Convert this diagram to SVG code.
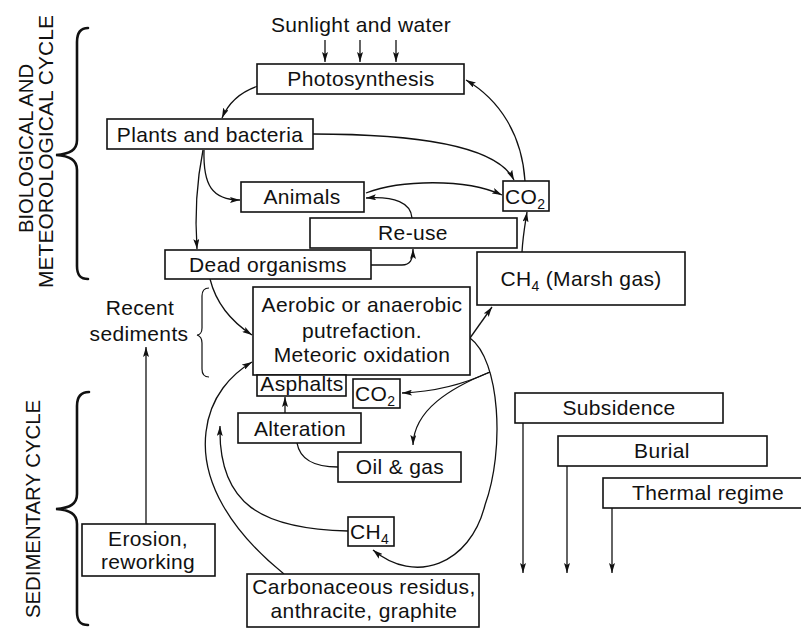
<svg xmlns="http://www.w3.org/2000/svg" width="801" height="632" viewBox="0 0 801 632">
<defs>
<style>
.t{font-family:"Liberation Sans",Arial,Helvetica,sans-serif;font-size:21px;letter-spacing:0.35px;fill:#111;text-anchor:middle}
.s{text-anchor:start}
.b{fill:#fff;stroke:#111;stroke-width:1.6}
.c{fill:none;stroke:#111;stroke-width:1.3}
.br{fill:none;stroke:#111;stroke-width:2.6;stroke-linecap:round}
.bt{fill:none;stroke:#111;stroke-width:1.2}
.v{font-family:"Liberation Sans",Arial,Helvetica,sans-serif;font-size:21px;fill:#111}
</style>
<marker id="a" viewBox="0 0 10 6" refX="10" refY="3" markerWidth="10" markerHeight="6" markerUnits="userSpaceOnUse" orient="auto">
<path d="M0,0 L10,3 L0,6 L2,3 z" fill="#111"/>
</marker>
</defs>
<rect width="801" height="632" fill="#fff"/>

<g id="labels">
<text class="v" transform="translate(33,233) rotate(-90)" textLength="169" lengthAdjust="spacingAndGlyphs">BIOLOGICAL AND</text>
<text class="v" transform="translate(53,288) rotate(-90)" textLength="273" lengthAdjust="spacing">METEOROLOGICAL CYCLE</text>
<text class="v" transform="translate(40,618) rotate(-90)" textLength="218" lengthAdjust="spacingAndGlyphs">SEDIMENTARY CYCLE</text>
<path class="br" d="M88,28 C80,28 77,33 77,42 L77,140 C77,150 70,154 56,155 C70,156 77,160 77,170 L77,266 C77,275 80,279 88,279"/>
<path class="br" d="M89,392 C81,392 77,397 77,406 L77,494 C77,504 70,508 56,509 C70,510 77,514 77,524 L77,612 C77,621 80,625 88,625"/>
<text class="t" x="140" y="315">Recent</text>
<text class="t" x="139" y="341">sediments</text>
<path class="bt" d="M209,288 C204,288 202,291 202,296 L202,328 C202,332 200,335 197,335 C200,336 202,339 202,343 L202,369 C202,374 204,377 209,377"/>
<text class="t" x="361" y="32">Sunlight and water</text>
</g>

<g id="connectors">
<path class="c" marker-end="url(#a)" d="M325,40 L325,62"/>
<path class="c" marker-end="url(#a)" d="M360,40 L360,62"/>
<path class="c" marker-end="url(#a)" d="M396,40 L396,62"/>
<path class="c" marker-end="url(#a)" d="M258,86 C240,92 228,104 222,118"/>
<path class="c" marker-end="url(#a)" d="M204,150 C203,185 212,200 240,200"/>
<path class="c" marker-end="url(#a)" d="M203,150 C196,185 195,220 197,249"/>
<path class="c" marker-end="url(#a)" d="M313,134 C400,134 495,142 514,180"/>
<path class="c" marker-end="url(#a)" d="M525,181 C522,135 500,100 466,80"/>
<path class="c" marker-end="url(#a)" d="M366,193 C400,180 465,178 502,195"/>
<path class="c" marker-end="url(#a)" d="M412,218 C411,203 395,196 366,198"/>
<path class="c" marker-end="url(#a)" d="M371,265 L402,265 C410,265 413,260 413,249"/>
<path class="c" marker-end="url(#a)" d="M522,252 C523,235 525,225 527,212"/>
<path class="c" marker-end="url(#a)" d="M210,279 C216,303 232,322 252,335"/>
<path class="c" marker-end="url(#a)" d="M470,338 L492,307"/>
<path class="c" marker-end="url(#a)" d="M470,338 C500,360 505,450 485,505 C470,565 415,585 373,550"/>
<path class="c" marker-end="url(#a)" d="M490,372 C460,386 430,392 402,393"/>
<path class="c" marker-end="url(#a)" d="M490,372 C450,388 414,410 413,445"/>
<path class="c" marker-end="url(#a)" d="M285,413 L285,397"/>
<path class="c" d="M297,443 C300,460 315,467 338,467"/>
<path class="c" marker-end="url(#a)" d="M348,531 C262,529 218,505 220,426"/>
<path class="c" marker-end="url(#a)" d="M284,574 C232,532 200,482 206,432 C210,396 232,374 252,362"/>
<path class="c" marker-end="url(#a)" d="M146,524 L146,347"/>
<path class="c" marker-end="url(#a)" d="M523,423 L523,573"/>
<path class="c" marker-end="url(#a)" d="M567,466 L567,573"/>
<path class="c" marker-end="url(#a)" d="M612,508 L612,573"/>
</g>

<g id="photosynthesis"><rect class="b" x="257" y="64" width="207" height="30"/><text class="t" x="361" y="86">Photosynthesis</text></g>
<g id="plants"><rect class="b" x="107" y="119" width="206" height="30"/><text class="t" x="210" y="142">Plants and bacteria</text></g>
<g id="animals"><rect class="b" x="241" y="182" width="123" height="30"/><text class="t" x="302" y="204">Animals</text></g>
<g id="reuse"><rect class="b" x="310" y="218" width="207" height="30"/><text class="t" x="413" y="240">Re-use</text></g>
<g id="dead"><rect class="b" x="165" y="250" width="206" height="29"/><text class="t" x="268" y="272">Dead organisms</text></g>
<g id="co2-top"><rect class="b" x="503" y="181" width="46" height="30"/><text class="t s" x="505" y="204" letter-spacing="0">CO<tspan font-size="14" dy="5">2</tspan></text></g>
<g id="marsh"><rect class="b" x="477" y="252" width="208" height="53"/><text class="t" x="581" y="286">CH<tspan font-size="14" dy="5">4</tspan><tspan dy="-5"> (Marsh gas)</tspan></text></g>
<g id="aerobic"><rect class="b" x="253" y="287" width="217" height="88"/><text class="t" x="362" y="312">Aerobic or anaerobic</text><text class="t" x="362" y="338">putrefaction.</text><text class="t" x="362" y="362">Meteoric oxidation</text></g>
<g id="asphalts"><rect class="b" x="257" y="375" width="89" height="21"/><text class="t" x="302" y="391" font-size="17" letter-spacing="0.3">Asphalts</text></g>
<g id="co2-mid"><rect class="b" x="353" y="379" width="47" height="29"/><text class="t s" x="355" y="401" letter-spacing="0">CO<tspan font-size="14" dy="5">2</tspan></text></g>
<g id="alteration"><rect class="b" x="238" y="413" width="123" height="30"/><text class="t" x="300" y="436">Alteration</text></g>
<g id="oil"><rect class="b" x="338" y="452" width="123" height="30"/><text class="t" x="400" y="474">Oil &amp; gas</text></g>
<g id="erosion"><rect class="b" x="82" y="524" width="133" height="52"/><text class="t" x="148" y="546">Erosion,</text><text class="t" x="148" y="569">reworking</text></g>
<g id="ch4-low"><rect class="b" x="348" y="517" width="46" height="29"/><text class="t s" x="350" y="539" letter-spacing="0">CH<tspan font-size="14" dy="5">4</tspan></text></g>
<g id="carbon"><rect class="b" x="247" y="574" width="232" height="53"/><text class="t" x="364" y="594">Carbonaceous residus,</text><text class="t" x="364" y="618">anthracite, graphite</text></g>
<g id="subsidence"><rect class="b" x="515" y="393" width="208" height="30"/><text class="t" x="619" y="415">Subsidence</text></g>
<g id="burial"><rect class="b" x="558" y="436" width="209" height="30"/><text class="t" x="662" y="458">Burial</text></g>
<g id="thermal"><rect class="b" x="603" y="478" width="210" height="30"/><text class="t" x="708" y="500">Thermal regime</text></g>
</svg>
